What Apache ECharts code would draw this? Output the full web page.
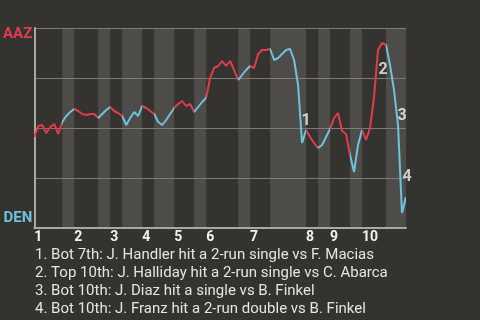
<!DOCTYPE html>
<html>
<head>
<meta charset="utf-8">
<script src="https://cdn.jsdelivr.net/npm/echarts@6/dist/echarts.min.js"></script>
<style>
  html, body { margin: 0; padding: 0; background: #35332f; }
  #chart { width: 480px; height: 320px; }
</style>
</head>
<body>
<div id="chart"></div>
<script>
// Teams (top of y axis = away team win chance)
const teamAway = 'AAZ';
const teamHome = 'DEN';

// Inning labels and half-inning boundaries (in plate appearance index)
const innings = ['1', '2', '3', '4', '5', '6', '7', '8', '9', '10'];
const halfBounds = [0, 7, 10, 16, 19, 22, 27, 30, 35, 40, 43, 51, 54, 59, 68, 71, 74, 79, 82, 88, 93];

// Away team win probability (%) after each plate appearance
const winPct = [
    45.5, 51, 51.5, 47.5, 50.5, 52, 47, 53,
    56, 58, 59.5,
    58.5, 57, 56.5, 57, 57, 55,
    57, 59, 60.5,
    58.5, 57.5, 56,
    51.5, 55, 58, 56, 61,
    60, 58.5, 57,
    53, 51.5, 54, 57, 60,
    62, 63.5, 61, 62, 58,
    60.5, 63, 65,
    75, 80, 81, 83.5, 81, 83.5, 79, 74,
    76.5, 79, 81,
    80, 87, 89, 89, 89.5,
    84, 85, 87, 89, 89.5, 84, 71.5, 42.5, 49,
    45.5, 42.5, 40,
    41.5, 45.5, 49.5,
    55, 57.5, 48.5, 47, 36.5,
    28, 41.5, 49,
    44, 50, 65.5, 89, 92.5, 91.5,
    81.5, 69, 51.5, 7.5, 15.5
];

// Key plays
const eventIdx = [67, 86, 91, 92];
const eventText = [
    '1. Bot 7th: J. Handler hit a 2-run single vs F. Macias',
    '2. Top 10th: J. Halliday hit a 2-run single vs C. Abarca',
    '3. Bot 10th: J. Diaz hit a single vs B. Finkel',
    '4. Bot 10th: J. Franz hit a 2-run double vs B. Finkel'
];

const AWAY_COLOR = '#e23c4b';
const HOME_COLOR = '#6dc3de';
const BAND_COLOR = '#4e4c49';
const FONT = 'Roboto';

let chart = echarts.init(document.getElementById('chart'));

let lineData = winPct.map(function (v, i) { return [i, v]; });

/* Top half = away batting (red), bottom half = home batting (blue). */
let pieces = [];
let bands = [];
for (let k = 0; k < halfBounds.length - 1; k++) {
    let piece = { lte: halfBounds[k + 1], color: k % 2 === 0 ? AWAY_COLOR : HOME_COLOR };
    if (k === 0) {
        piece.gte = halfBounds[k];
    } else {
        piece.gt = halfBounds[k];
    }
    pieces.push(piece);
    if (k % 2 === 1) {
        bands.push([{ xAxis: halfBounds[k] }, { xAxis: halfBounds[k + 1] }]);
    }
}

let inningStarts = [];
for (let k = 0; k < halfBounds.length - 1; k += 2) {
    inningStarts.push(halfBounds[k]);
}

let eventOffsets = [[4, -22], [5, 20], [4, -9], [5, -36]];
let eventData = eventIdx.map(function (idx, n) {
    return {
        value: [idx, winPct[idx]],
        label: { offset: eventOffsets[n] }
    };
});

let options = {
    backgroundColor: '#35332f',
    animation: false,
    grid: {
        left: 33,
        right: 74,
        top: 28,
        bottom: 92
    },
    xAxis: {
        type: 'value',
        z: 2,
        min: 0,
        max: halfBounds[halfBounds.length - 1],
        axisLine: { show: true, lineStyle: { color: '#aaa8a5', width: 2 } },
        axisTick: { show: false },
        splitLine: { show: false },
        axisLabel: {
            customValues: inningStarts,
            formatter: function (v) { return innings[inningStarts.indexOf(v)]; },
            align: 'left',
            margin: 2,
            color: '#f2f2f2',
            fontFamily: FONT,
            fontWeight: 'bold',
            fontSize: 14
        }
    },
    yAxis: {
        type: 'value',
        z: 2,
        min: 0,
        max: 100,
        interval: 25,
        axisLine: { show: true, lineStyle: { color: '#aaa8a5', width: 2 } },
        axisTick: { show: false },
        splitLine: { show: true, lineStyle: { color: '#7d7b78', width: 1 } },
        axisLabel: {
            customValues: [5, 97],
            formatter: function (v) {
                return v > 50 ? '{a|' + teamAway + '}' : '{h|' + teamHome + '}';
            },
            margin: 2,
            rich: {
                a: { color: AWAY_COLOR, fontFamily: FONT, fontWeight: 'bold', fontSize: 15 },
                h: { color: HOME_COLOR, fontFamily: FONT, fontWeight: 'bold', fontSize: 15 }
            }
        }
    },
    visualMap: {
        type: 'piecewise',
        show: false,
        dimension: 0,
        seriesIndex: 1,
        pieces: pieces
    },
    series: [
        {
            /* Shaded bottom halves, kept under the grid lines. */
            type: 'line',
            data: [],
            z: 1,
            silent: true,
            markArea: {
                silent: true,
                itemStyle: { color: BAND_COLOR },
                data: bands
            }
        },
        {
            type: 'line',
            data: lineData,
            showSymbol: false,
            lineStyle: { width: 2 },
            z: 5
        },
        {
            type: 'scatter',
            data: eventData,
            symbolSize: 0,
            z: 6,
            label: {
                show: true,
                position: 'inside',
                formatter: function (p) { return String(p.dataIndex + 1); },
                color: '#f4f4f4',
                fontFamily: FONT,
                fontWeight: 'bold',
                fontSize: 16
            }
        }
    ],
    graphic: [
        {
            type: 'text',
            left: 35,
            top: 246,
            style: {
                text: eventText.join('\n'),
                font: '15px ' + FONT,
                lineHeight: 18,
                fill: '#e4e4e4'
            }
        }
    ]
};

chart.setOption(options);

window.addEventListener('resize', function () {
    chart?.resize();
});
</script>
</body>
</html>
